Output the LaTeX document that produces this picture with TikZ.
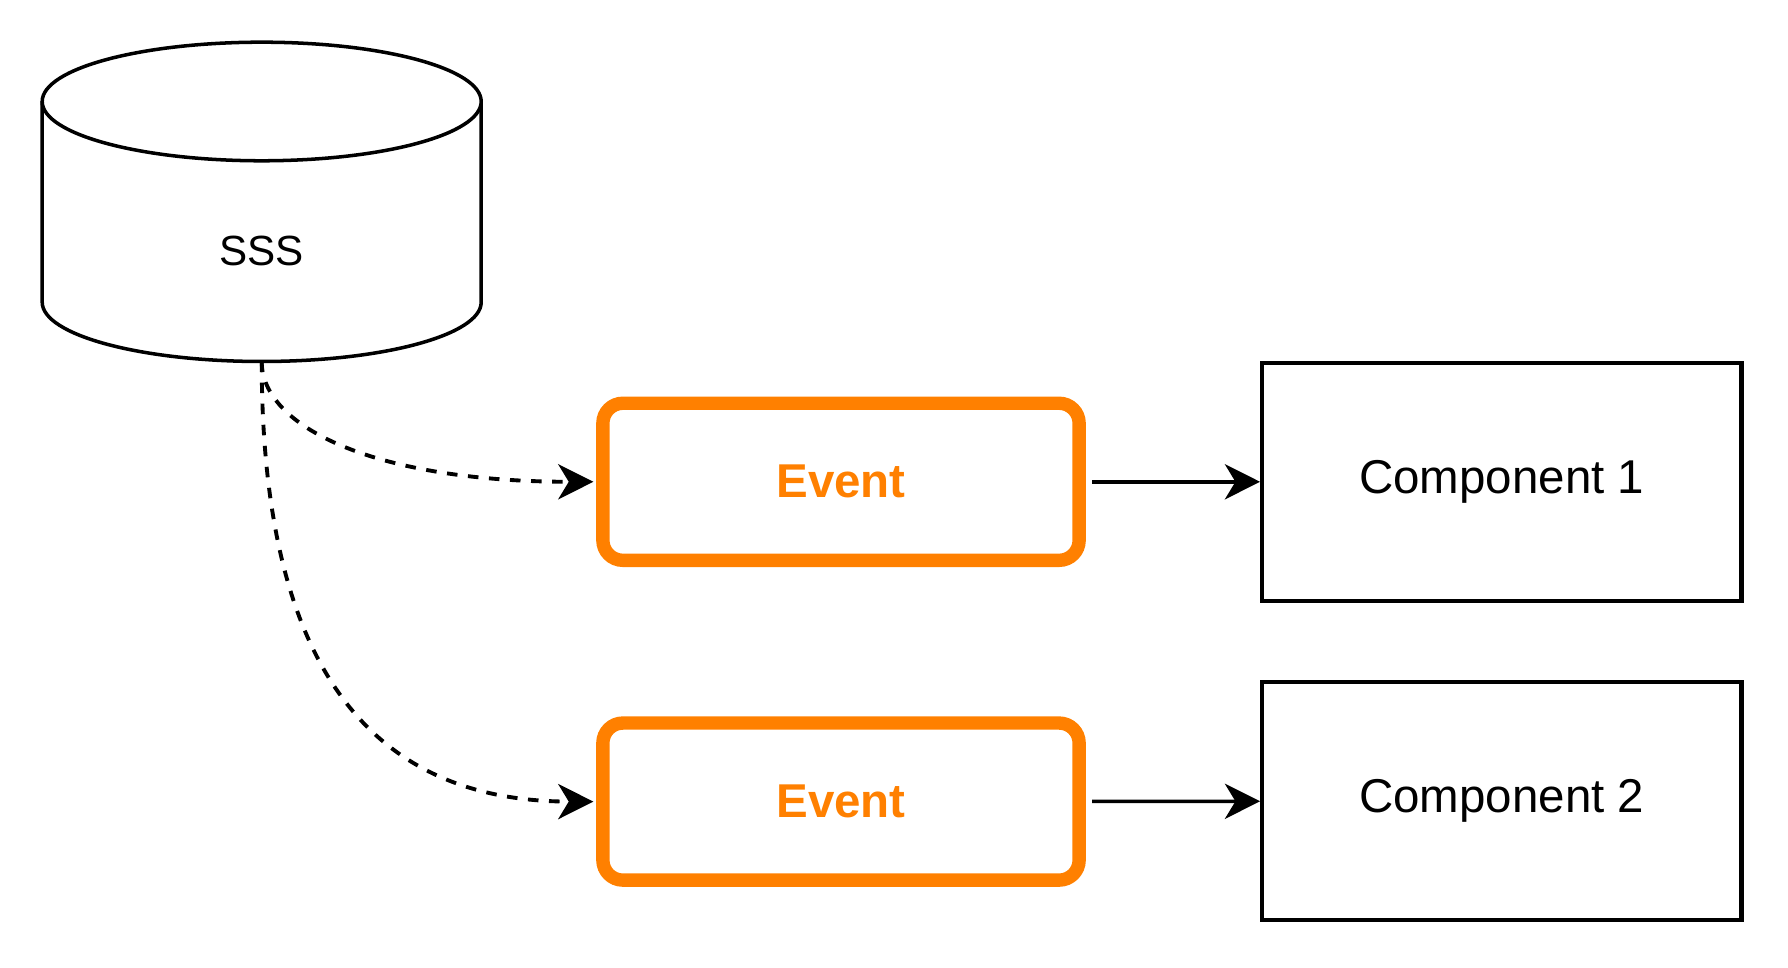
\documentclass[tikz,border=0pt]{standalone}
\usepackage{fontspec}
\setmainfont{Liberation Sans}
\usetikzlibrary{arrows.meta}
\definecolor{eventorange}{HTML}{FF8000}
\begin{document}
\begin{tikzpicture}[x=0.01cm, y=-0.01cm]
  \useasboundingbox (0,0) rectangle (1788,968);

  % Speicher.
  \draw[line width=1pt] (42.2,101.5) -- (42.2,302.2)
    arc[start angle=180, end angle=0, x radius=219.5, y radius=59.3] -- (481.2,101.5);
  \draw[line width=1pt, fill=white] (261.7,101.5) ellipse [x radius=219.5, y radius=59.3];
  \node[font=\fontsize{12}{14}\selectfont] (sss) at (261.5,251) {SSS};
  \coordinate (sssbottom) at (261.7,361.5);

  % Knoten.
  \tikzstyle{event}=[draw=eventorange, line width=3.8pt, rounded corners=0.2cm, minimum width=4.76cm, minimum height=1.57cm, text=eventorange, font=\bfseries\fontsize{13.5}{16}\selectfont]
  \tikzstyle{component}=[draw, line width=1.2pt, minimum width=4.79cm, minimum height=2.38cm, font=\fontsize{13.5}{16}\selectfont]

  \node[event] (ev1) at (841,481.8) {Event};
  \node[event] (ev2) at (841,801.6) {Event};
  \node[component] (comp1) at (1501.8,481.8) {Component 1};
  \node[component] (comp2) at (1501.8,801.1) {Component 2};

  % Kanten.
  \tikzstyle{flow}=[line width=1pt, -{Stealth[length=10pt, width=10pt, inset=3pt]}]
  \tikzstyle{feed}=[flow, line width=1.1pt, dash pattern=on 3pt off 3pt]

  \path (ev1) edge[flow, shorten <=1.8pt] (comp1);
  \path (ev2) edge[flow, shorten <=1.8pt] (comp2);

  \draw[feed, shorten >=0.8pt] (sssbottom) .. controls +(0,66) and +(-220,0) .. (ev1.west);
  \draw[feed, shorten >=0.8pt] (sssbottom) .. controls +(0,285) and +(-240,0) .. (ev2.west);
\end{tikzpicture}
\end{document}
